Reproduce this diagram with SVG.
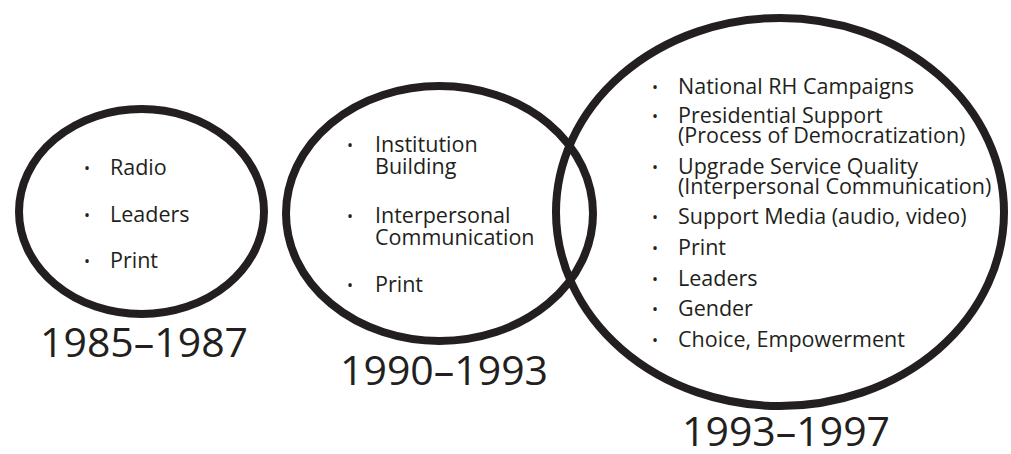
<svg xmlns="http://www.w3.org/2000/svg" width="1011" height="454" viewBox="0 0 1011 454">
<style>
.ell{fill:none;stroke:#231f20;stroke-width:8}
.t{font-family:"Open Sans","Noto Sans",sans-serif;font-size:21.5px;fill:#231f20}
.b{font-family:"Open Sans","Noto Sans",sans-serif;font-size:16px;fill:#231f20}
.y{font-family:"Open Sans","Noto Sans",sans-serif;font-size:41px;fill:#231f20}
</style>
<rect width="1011" height="454" fill="#fff"/>
<g id="period1">
<ellipse class="ell" cx="141.5" cy="211.5" rx="122.5" ry="102.5"/>
<text class="b" x="84" y="174">•</text><text class="t" x="110" y="175">Radio</text>
<text class="b" x="84" y="221">•</text><text class="t" x="110" y="222">Leaders</text>
<text class="b" x="84" y="267">•</text><text class="t" x="110" y="268">Print</text>
<text class="y" x="40" y="357">1985–1987</text>
</g>
<g id="period2">
<ellipse class="ell" cx="439.5" cy="213.5" rx="153.5" ry="127.5"/>
<text class="b" x="347" y="151">•</text><text class="t" x="375" y="152">Institution</text>
<text class="t" x="375" y="174">Building</text>
<text class="b" x="347" y="222">•</text><text class="t" x="375" y="223">Interpersonal</text>
<text class="t" x="375" y="245">Communication</text>
<text class="b" x="347" y="291">•</text><text class="t" x="375" y="292">Print</text>
<text class="y" x="340" y="385">1990–1993</text>
</g>
<g id="period3">
<ellipse class="ell" cx="780" cy="212" rx="224" ry="194"/>
<text class="b" x="652" y="93">•</text><text class="t" x="678" y="94">National RH Campaigns</text>
<text class="b" x="652" y="122">•</text><text class="t" x="678" y="123">Presidential Support</text>
<text class="t" x="678" y="143">(Process of Democratization)</text>
<text class="b" x="652" y="173">•</text><text class="t" x="678" y="174">Upgrade Service Quality</text>
<text class="t" x="678" y="194">(Interpersonal Communication)</text>
<text class="b" x="652" y="223">•</text><text class="t" x="678" y="224">Support Media (audio, video)</text>
<text class="b" x="652" y="254">•</text><text class="t" x="678" y="255">Print</text>
<text class="b" x="652" y="285">•</text><text class="t" x="678" y="286">Leaders</text>
<text class="b" x="652" y="315">•</text><text class="t" x="678" y="316">Gender</text>
<text class="b" x="652" y="346">•</text><text class="t" x="678" y="347">Choice, Empowerment</text>
<text class="y" x="682" y="446">1993–1997</text>
</g>
<g id="connectors"/>
</svg>
